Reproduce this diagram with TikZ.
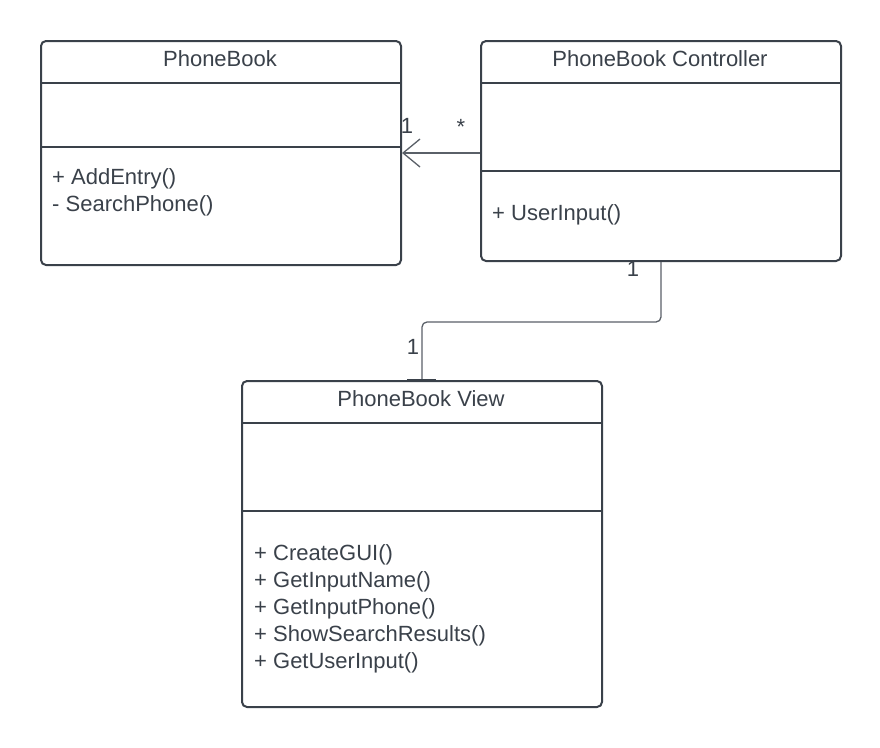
\documentclass[tikz,border=0pt]{standalone}
\usepackage{fontspec}
\setmainfont{Liberation Sans}
\usetikzlibrary{arrows.meta}
\definecolor{ink}{HTML}{3A414A}
\definecolor{wire}{HTML}{5A6068}
\tikzset{
  umlbox/.style={draw=ink, line width=2pt, rounded corners=5pt, fill=white, rectangle, inner sep=0pt, anchor=north west},
  divider/.style={draw=ink, line width=2pt},
  conn/.style={draw=wire, line width=1.3pt},
  lbl/.style={font=\fontsize{22}{26}\selectfont, text=ink, inner sep=0pt},
  meth/.style={font=\fontsize{22}{27}\selectfont, text=ink, inner sep=0pt, anchor=north west, align=left},
}
\begin{document}
\begin{tikzpicture}[x=1pt,y=-1pt]
\useasboundingbox (0,0) rectangle (880,747);
% PhoneBook
\node[umlbox, minimum width=360pt, minimum height=224pt] (pb) at (40,40) {};
\draw[divider] (pb.west |- 0,83) -- (pb.east |- 0,83);
\draw[divider] (pb.west |- 0,147) -- (pb.east |- 0,147);
\node[lbl] (pbt) at (220,59) {PhoneBook};
\node[meth] (pbm) at (52,168) {+ AddEntry()\\- SearchPhone()};
% Controller
\node[umlbox, minimum width=360pt, minimum height=220pt] (pc) at (480,40) {};
\draw[divider] (pc.west |- 0,83) -- (pc.east |- 0,83);
\draw[divider] (pc.west |- 0,171) -- (pc.east |- 0,171);
\node[lbl] (pct) at (660,59) {PhoneBook Controller};
\node[meth] (pcm) at (492,204) {+ UserInput()};
% View
\node[umlbox, minimum width=360pt, minimum height=326pt] (pv) at (241,380) {};
\draw[divider] (pv.west |- 0,423) -- (pv.east |- 0,423);
\draw[divider] (pv.west |- 0,511) -- (pv.east |- 0,511);
\node[lbl] (pvt) at (421,399) {PhoneBook View};
\node[meth] (pvm) at (254,544) {+ CreateGUI()\\+ GetInputName()\\+ GetInputPhone()\\+ ShowSearchResults()\\+ GetUserInput()};
% connectors
\coordinate (a1) at (pc.west |- 0,153);
\coordinate (a2) at (pb.east |- 0,153);
\draw[conn, -{Straight Barb[length=17pt, width=28pt, line width=1.3pt]}] (a1) -- (a2);
\node[lbl] (m1) at (407,126) {1};
\node[lbl] (m2) at (461,127) {*};
\draw[conn, rounded corners=5pt] (pc.south) -- ++(0,60) -| (pv.north);
\draw[draw=ink, line width=3pt] ([xshift=-15pt]pv.north) -- ([xshift=14pt]pv.north);
\node[lbl] (m3) at (633,269) {1};
\node[lbl] (m4) at (413,347) {1};
\end{tikzpicture}
\end{document}
